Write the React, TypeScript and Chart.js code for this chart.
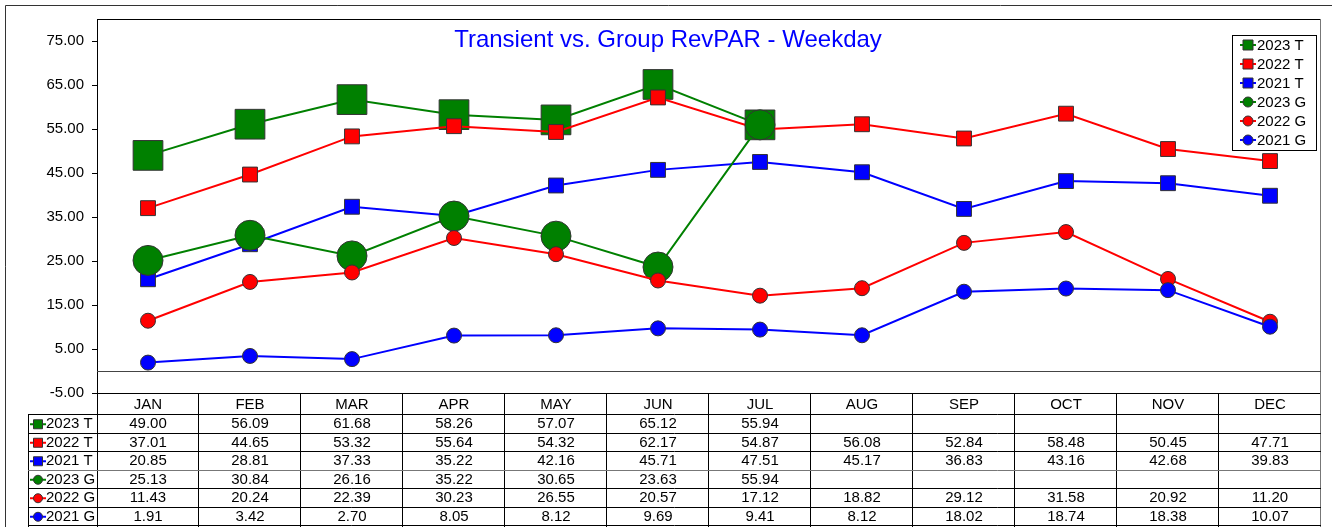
import React, { useEffect, useRef } from 'react';
import { Chart, registerables } from 'chart.js';
Chart.register(...registerables);

const titleText = 'Transient vs. Group RevPAR - Weekday';
const months = ['JAN', 'FEB', 'MAR', 'APR', 'MAY', 'JUN', 'JUL', 'AUG', 'SEP', 'OCT', 'NOV', 'DEC'];
const seriesNames = ['2023 T', '2022 T', '2021 T', '2023 G', '2022 G', '2021 G'];
const t2023: (number | null)[] = [49.0, 56.09, 61.68, 58.26, 57.07, 65.12, 55.94, null, null, null, null, null];
const t2022: (number | null)[] = [37.01, 44.65, 53.32, 55.64, 54.32, 62.17, 54.87, 56.08, 52.84, 58.48, 50.45, 47.71];
const t2021: (number | null)[] = [20.85, 28.81, 37.33, 35.22, 42.16, 45.71, 47.51, 45.17, 36.83, 43.16, 42.68, 39.83];
const g2023: (number | null)[] = [25.13, 30.84, 26.16, 35.22, 30.65, 23.63, 55.94, null, null, null, null, null];
const g2022: (number | null)[] = [11.43, 20.24, 22.39, 30.23, 26.55, 20.57, 17.12, 18.82, 29.12, 31.58, 20.92, 11.2];
const g2021: (number | null)[] = [1.91, 3.42, 2.7, 8.05, 8.12, 9.69, 9.41, 8.12, 18.02, 18.74, 18.38, 10.07];
const yTickValues = [-5, 5, 15, 25, 35, 45, 55, 65, 75];
const yMin = -5;
const yMax = 80;

const seriesData = [t2023, t2022, t2021, g2023, g2022, g2021];
const colors = ['#008000', '#FF0000', '#0000FF', '#008000', '#FF0000', '#0000FF'];
const shapes = ['rect', 'rect', 'rect', 'circle', 'circle', 'circle'];
const radii = [21, 10.5, 10.5, 15, 7.5, 7.5];

const FONT = "'Liberation Sans', Arial, sans-serif";

function drawMarker(ctx: CanvasRenderingContext2D, cx: number, cy: number, i: number, half: number, size: number) {
  ctx.save();
  ctx.strokeStyle = colors[i];
  ctx.lineWidth = 2;
  ctx.beginPath();
  ctx.moveTo(cx - half, cy);
  ctx.lineTo(cx + half, cy);
  ctx.stroke();
  ctx.fillStyle = colors[i];
  ctx.strokeStyle = '#333';
  ctx.lineWidth = 1;
  ctx.beginPath();
  if (shapes[i] === 'rect') {
    ctx.rect(cx - size / 2, cy - size / 2, size, size);
  } else {
    ctx.arc(cx, cy, size / 2, 0, Math.PI * 2);
  }
  ctx.fill();
  ctx.stroke();
  ctx.restore();
}

const decorPlugin = {
  id: 'decor',
  afterDraw(chart: any) {
    const ctx: CanvasRenderingContext2D = chart.ctx;
    const area = chart.chartArea;
    const y = chart.scales.y;
    const x = chart.scales.x;
    ctx.save();
    // outer frame
    ctx.strokeStyle = '#333';
    ctx.lineWidth = 1;
    ctx.beginPath();
    ctx.moveTo(5.5, 540);
    ctx.lineTo(5.5, 5.5);
    ctx.lineTo(1332, 5.5);
    ctx.stroke();

    // plot border
    ctx.strokeStyle = '#000';
    ctx.beginPath();
    ctx.moveTo(area.left, area.top + 0.5);
    ctx.lineTo(area.right, area.top + 0.5);
    ctx.stroke();
    ctx.strokeStyle = '#777';
    ctx.beginPath();
    ctx.moveTo(area.right - 0.5, area.top);
    ctx.lineTo(area.right - 0.5, 540);
    ctx.stroke();

    // zero line
    const y0 = Math.round(y.getPixelForValue(0)) + 0.5;
    ctx.strokeStyle = '#444';
    ctx.beginPath();
    ctx.moveTo(area.left, y0);
    ctx.lineTo(area.right, y0);
    ctx.stroke();

    // title
    ctx.fillStyle = '#0000FF';
    ctx.font = `24px ${FONT}`;
    ctx.textAlign = 'center';
    ctx.textBaseline = 'middle';
    ctx.fillText(titleText, 668, 40);

    // legend box
    const lx = 1232, ly = 35, lw = 84, lh = 115;
    ctx.fillStyle = '#fff';
    ctx.fillRect(lx, ly, lw, lh);
    ctx.strokeStyle = '#000';
    ctx.strokeRect(lx + 0.5, ly + 0.5, lw, lh);
    ctx.font = `15px ${FONT}`;
    ctx.textAlign = 'left';
    seriesNames.forEach((n, i) => {
      const cy = ly + 10 + i * 19;
      drawMarker(ctx, lx + 16, cy, i, 8, 10);
      ctx.fillStyle = '#000';
      ctx.fillText(n, lx + 25, cy + 1);
    });

    // table
    const top = Math.round(area.bottom);
    const headH = 21;
    const rowH = 18.5;
    const colW = (area.right - area.left) / months.length;
    const labelLeft = 28;
    const tableBottom = 540;
    ctx.strokeStyle = '#000';
    ctx.lineWidth = 1;
    ctx.beginPath();
    ctx.moveTo(area.left, top + 0.5);
    ctx.lineTo(area.right, top + 0.5);
    ctx.stroke();
    for (let c = 0; c <= months.length; c++) {
      const vx = Math.round(area.left + c * colW) - 0.5;
      ctx.strokeStyle = c === months.length ? '#777' : '#000';
      ctx.beginPath();
      ctx.moveTo(vx + (c === 0 ? 1 : 0), top);
      ctx.lineTo(vx + (c === 0 ? 1 : 0), tableBottom);
      ctx.stroke();
    }
    ctx.strokeStyle = '#000';
    ctx.beginPath();
    ctx.moveTo(labelLeft + 0.5, top + headH);
    ctx.lineTo(labelLeft + 0.5, tableBottom);
    ctx.stroke();
    for (let r = 0; r <= seriesNames.length; r++) {
      const hy = Math.round(top + headH + r * rowH) + 0.5;
      ctx.strokeStyle = r === 3 ? '#777' : '#000';
      ctx.beginPath();
      ctx.moveTo(labelLeft, hy);
      ctx.lineTo(area.right, hy);
      ctx.stroke();
    }
    ctx.fillStyle = '#000';
    ctx.font = `15px ${FONT}`;
    ctx.textAlign = 'center';
    ctx.textBaseline = 'middle';
    months.forEach((m, c) => {
      ctx.fillText(m, x.getPixelForValue(c), top + headH / 2 + 1);
    });
    seriesNames.forEach((n, r) => {
      const cy = top + headH + r * rowH + rowH / 2 + 1;
      drawMarker(ctx, labelLeft + 10, cy, r, 8, 9);
      ctx.fillStyle = '#000';
      ctx.textAlign = 'left';
      ctx.fillText(n, labelLeft + 18, cy);
      ctx.textAlign = 'center';
      seriesData[r].forEach((v, c) => {
        if (v !== null && v !== undefined) {
          ctx.fillText(v.toFixed(2), x.getPixelForValue(c), cy);
        }
      });
    });
    ctx.restore();
  },
};

export default function App() {
  const ref = useRef<HTMLCanvasElement | null>(null);
  useEffect(() => {
    if (!ref.current) return;
    const n = seriesNames.length;
    const chart = new Chart(ref.current, {
      type: 'line',
      data: {
        labels: months,
        datasets: seriesNames.map((name, i) => ({
          label: name,
          data: seriesData[i],
          borderColor: colors[i],
          backgroundColor: colors[i],
          borderWidth: 2,
          pointStyle: shapes[i] as any,
          pointRadius: radii[i],
          pointHoverRadius: radii[i],
          pointBackgroundColor: colors[i],
          pointBorderColor: '#333',
          pointBorderWidth: 1,
          tension: 0,
          spanGaps: false,
          order: n - i,
        })),
      },
      options: {
        animation: false,
        responsive: false,
        devicePixelRatio: 1,
        layout: { autoPadding: false, padding: { left: 0, top: 19, right: 11, bottom: 134 } },
        plugins: {
          legend: { display: false },
          title: { display: false },
          tooltip: { enabled: false },
        },
        scales: {
          x: {
            type: 'category',
            display: false,
            offset: true,
          },
          y: {
            min: yMin,
            max: yMax,
            afterBuildTicks: (scale: any) => {
              scale.ticks = yTickValues.map((v) => ({ value: v }));
            },
            afterFit: (scale: any) => {
              scale.width = 97;
            },
            grid: {
              drawOnChartArea: false,
              drawTicks: true,
              tickLength: 5,
              color: '#000',
            },
            border: { display: true, color: '#000', width: 1 },
            ticks: {
              padding: 8,
              color: '#000',
              font: { family: FONT, size: 15 },
              callback: (v: any) => Number(v).toFixed(2),
            },
          },
        },
      },
      plugins: [decorPlugin],
    });
    return () => chart.destroy();
  }, []);
  return (
    <div style={{ position: 'fixed', left: 0, top: 0, width: 1332, height: 527, background: '#fff' }}>
      <canvas ref={ref} width={1332} height={527} style={{ display: 'block' }} />
    </div>
  );
}
